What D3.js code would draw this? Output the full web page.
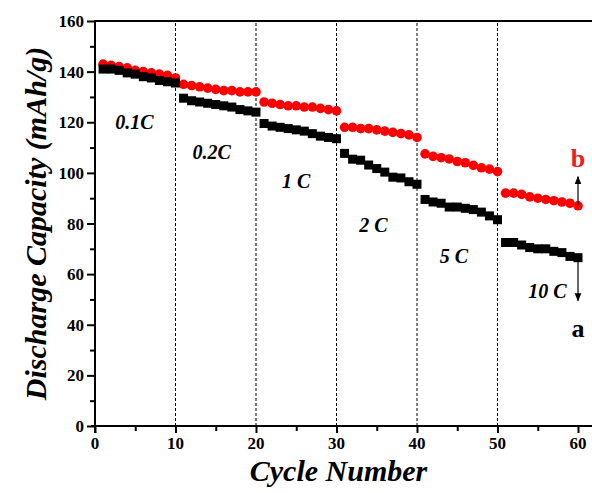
<!DOCTYPE html>
<html>
<head>
<meta charset="utf-8">
<script src="https://cdn.jsdelivr.net/npm/d3@7"></script>
<style>
  body { margin: 0; background: #fff; }
</style>
</head>
<body>
<div id="chart"></div>
<script>
// Cycle numbers 1..60 (explicit list)
var cycles = [1,2,3,4,5,6,7,8,9,10,11,12,13,14,15,16,17,18,19,20,
  21,22,23,24,25,26,27,28,29,30,31,32,33,34,35,36,37,38,39,40,
  41,42,43,44,45,46,47,48,49,50,51,52,53,54,55,56,57,58,59,60];

// Sample a (black squares)
var capA = [141,141,140.5,139.5,139,138,137.5,136.5,136,135.5,
  129.5,128.5,128,127.5,127,126.5,126,125,124.5,124,
  119.5,118.5,118,117.5,117,116.5,115.5,114.5,114,113.5,
  107.7,105.4,105,103.1,101.7,100.3,98.3,98,96.5,95.5,
  89.5,88.5,88,86.5,86.5,86,85.5,84.5,83,81.5,
  72.5,72.5,71.5,70.5,70,70,69,68.5,67,66.5];

// Sample b (red circles)
var capB = [143,142.5,142,141.5,140.5,140,139.5,139,138.5,137.5,
  135,134.5,134,133.5,133,132.5,132.5,132,132,132,
  128,127.5,127,126.5,126.5,126,126,125.5,125,124.5,
  118,118,117.5,117.5,117,116.5,116,115.5,115,114,
  107.5,106.5,106,105.5,104.5,104,103,102,101.5,100.5,
  92,92,91.5,90.5,90,89.5,89,88.5,88,87];

// Rate boundaries and the labels sitting in each segment
var boundaries = [10, 20, 30, 40, 50];
var rateLabels = ["0.1C", "0.2C", "1 C", "2 C", "5 C", "10 C"];
var rateLabelPos = [[4.9, 117.5], [14.5, 105.5], [25, 94], [34.6, 76.5], [44.6, 64.5], [56.2, 50.5]];

var yTicks = [0, 20, 40, 60, 80, 100, 120, 140, 160];
var xTicks = [0, 10, 20, 30, 40, 50, 60];

var width = 592, height = 493;
var serif = "'Liberation Serif', 'Times New Roman', Times, serif";

var svg = d3.select("#chart").append("svg")
    .attr("width", width).attr("height", height)
    .attr("font-family", serif)
    .attr("font-weight", "bold");

var x = d3.scaleLinear().domain([0, 60]).range([95, 578]);
var y = d3.scaleLinear().domain([0, 160]).range([426, 21]);

// dashed separators between the rate steps
svg.append("g").selectAll("line")
  .data(boundaries)
  .enter().append("line")
    .attr("x1", function(d) { return x(d); })
    .attr("x2", function(d) { return x(d); })
    .attr("y1", y(0)).attr("y2", y(160))
    .attr("stroke", "#000").attr("stroke-width", 1)
    .attr("stroke-dasharray", "3,2");

// top frame line runs past the right edge
svg.append("line")
  .attr("x1", x(0)).attr("x2", width)
  .attr("y1", y(160)).attr("y2", y(160))
  .attr("stroke", "#000").attr("stroke-width", 2);

// x axis with minor ticks
var xAxis = svg.append("g")
  .attr("transform", "translate(0," + y(0) + ")")
  .call(d3.axisBottom(x).tickValues(d3.range(0, 61, 5)).tickSize(5).tickFormat(""));
xAxis.select(".domain").remove();
svg.append("line")
  .attr("x1", x(0) - 4).attr("x2", width)
  .attr("y1", y(0)).attr("y2", y(0))
  .attr("stroke", "#000").attr("stroke-width", 2);
xAxis.selectAll("line").attr("stroke-width", 2)
  .attr("y2", function(d) { return d % 10 === 0 ? 7 : 5; });

svg.append("g").selectAll("text")
  .data(xTicks)
  .enter().append("text")
    .attr("x", function(d) { return x(d); })
    .attr("y", y(0) + 23)
    .attr("text-anchor", "middle")
    .attr("font-family", serif)
    .attr("font-size", 17)
    .text(function(d) { return d; });

// y axis with minor ticks
var yAxis = svg.append("g")
  .attr("transform", "translate(" + x(0) + ",0)")
  .call(d3.axisLeft(y).tickValues(d3.range(0, 161, 10)).tickFormat(""));
yAxis.select(".domain").remove();
svg.append("line")
  .attr("x1", x(0)).attr("x2", x(0))
  .attr("y1", y(160) - 1).attr("y2", y(0) + 7)
  .attr("stroke", "#000").attr("stroke-width", 2);
yAxis.selectAll("line").attr("stroke-width", 2)
  .attr("x2", function(d) { return d % 20 === 0 ? -8 : -5; });

svg.append("g").selectAll("text")
  .data(yTicks)
  .enter().append("text")
    .attr("x", x(0) - 11)
    .attr("y", function(d) { return y(d) + 6; })
    .attr("text-anchor", "end")
    .attr("font-family", serif)
    .attr("font-size", 17)
    .text(function(d) { return d; });

// sample b: red circles
svg.append("g").selectAll("circle")
  .data(cycles)
  .enter().append("circle")
    .attr("cx", function(d) { return x(d); })
    .attr("cy", function(d, i) { return y(capB[i]); })
    .attr("r", 4.8)
    .attr("fill", "#ff0000");

// sample a: black squares
svg.append("g").selectAll("rect")
  .data(cycles)
  .enter().append("rect")
    .attr("x", function(d) { return x(d) - 4.5; })
    .attr("y", function(d, i) { return y(capA[i]) - 4.5; })
    .attr("width", 9).attr("height", 9)
    .attr("fill", "#000");

// rate labels
svg.append("g").selectAll("text")
  .data(rateLabels)
  .enter().append("text")
    .attr("x", function(d, i) { return x(rateLabelPos[i][0]); })
    .attr("y", function(d, i) { return y(rateLabelPos[i][1]); })
    .attr("text-anchor", "middle")
    .attr("font-family", serif)
    .attr("font-size", 20)
    .attr("font-style", "italic")
    .text(function(d) { return d; });

// arrows pointing to the sample labels
var defs = svg.append("defs");
defs.append("marker")
    .attr("id", "head")
    .attr("viewBox", "0 0 10 10")
    .attr("refX", 9).attr("refY", 5)
    .attr("markerWidth", 7).attr("markerHeight", 7)
    .attr("orient", "auto")
  .append("path")
    .attr("d", "M0,1 L10,5 L0,9 Z")
    .attr("fill", "#000");

svg.append("line")
  .attr("x1", x(60)).attr("x2", x(60))
  .attr("y1", y(capB[59])).attr("y2", y(98.5))
  .attr("stroke", "#000").attr("stroke-width", 1.2)
  .attr("marker-end", "url(#head)");
svg.append("line")
  .attr("x1", x(60)).attr("x2", x(60))
  .attr("y1", y(capA[59])).attr("y2", y(49.5))
  .attr("stroke", "#000").attr("stroke-width", 1.2)
  .attr("marker-end", "url(#head)");

svg.append("text")
  .attr("x", x(60)).attr("y", y(102.5))
  .attr("text-anchor", "middle")
  .attr("font-family", serif)
  .attr("font-size", 26)
  .attr("fill", "#ee1c24")
  .text("b");
svg.append("text")
  .attr("x", x(60)).attr("y", y(35))
  .attr("text-anchor", "middle")
  .attr("font-family", serif)
  .attr("font-size", 26)
  .attr("fill", "#000")
  .text("a");

// axis titles
svg.append("text")
  .attr("transform", "translate(46," + ((y(0) + y(160)) / 2) + ") rotate(-90)")
  .attr("text-anchor", "middle")
  .attr("font-family", serif)
  .attr("font-size", 30)
  .attr("font-style", "italic")
  .text("Discharge Capacity (mAh/g)");

svg.append("text")
  .attr("x", (x(0) + width) / 2 - 5)
  .attr("y", 481)
  .attr("text-anchor", "middle")
  .attr("font-family", serif)
  .attr("font-size", 30)
  .attr("font-style", "italic")
  .text("Cycle Number");
</script>
</body>
</html>
